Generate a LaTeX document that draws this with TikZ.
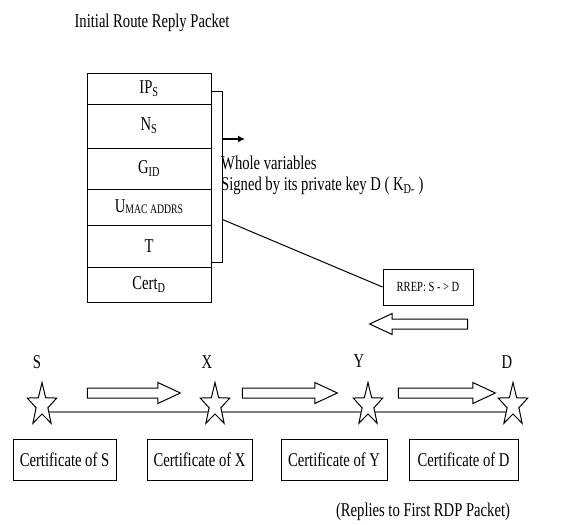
\documentclass[tikz,border=0pt]{standalone}
\usepackage{fontspec}
\setmainfont{Liberation Serif}[FakeStretch=0.75]
\usetikzlibrary{arrows.meta,calc,positioning,backgrounds,shapes.geometric,shapes.arrows}

\begin{document}
\begin{tikzpicture}[x=1pt,y=-1pt,>=Latex,
 every node/.style={font=\fontsize{19.5}{21}\selectfont},
 field/.style={draw,line width=1pt,minimum width=124pt,inner sep=0pt},
 certbox/.style={draw,line width=1pt,minimum height=41pt,inner sep=0pt},
 blockarrow/.style={single arrow,draw,fill=white,line width=1pt,inner xsep=0pt,inner ysep=4.5pt,
 single arrow head extend=5.5pt,single arrow tip angle=50},
 hopstar/.style={star,star points=5,star point ratio=2.5,draw,fill=white,line width=1pt,
 minimum size=31pt,inner sep=0pt,yscale=1.45,transform shape}]
 \useasboundingbox (0,0) rectangle (576,525);
 \node (title) at (152,23) {Initial Route Reply Packet};
 \node[field,minimum height=31pt] (ips) at (149,88.5) {IP\textsubscript{S}};
 \node[field,minimum height=44pt] (ns) at (149,126) {N\textsubscript{S}};
 \node[field,minimum height=41pt] (gid) at (149,168.5) {G\textsubscript{ID}};
 \node[field,minimum height=36pt] (umac) at (149,207) {U\raisebox{-1pt}{\fontsize{13}{14}\selectfont MAC ADDRS}};
 \node[field,minimum height=42pt] (tfield) at (149,246) {T};
 \node[field,minimum height=35pt] (cert) at (149,284.5) {Cert\textsubscript{D}};
 \node[draw,line width=1pt,minimum width=11pt,minimum height=171pt,inner sep=0pt] (sigbar) at (216.5,176.5) {};
 \coordinate (sigtip) at (245,139);
 \draw[-{Latex[length=7pt,width=7pt]},line width=1.5pt] (sigbar.east |- sigtip) -- (sigtip);
 \node[anchor=west,inner sep=0pt] (whole) at (221,163) {Whole variables};
 \node[anchor=west,inner sep=0pt] (signed) at (221,186) {Signed by its private key D ( K\textsubscript{D-} )};
 \node[draw,line width=1pt,minimum width=90pt,minimum height=36pt,font=\fontsize{14}{16}\selectfont] (rrep) at (428,287) {RREP: S - > D};
 \draw[line width=1pt] ($(sigbar.north east)!0.75!(sigbar.south east)$) -- (rrep.west);
 \node[blockarrow,minimum height=98pt,shape border rotate=180] (back) at (424,324) {};

 \node (lS) at (37,362) {S};
 \node (lX) at (207,362) {X};
 \node (lY) at (359,361) {Y};
 \node (lD) at (507,362) {D};
 \node[hopstar] (sS) at (42,405) {};
 \node[hopstar] (sX) at (215,405) {};
 \node[hopstar] (sY) at (368,405) {};
 \node[hopstar] (sD) at (513,405) {};
 \begin{scope}[on background layer]
 \draw[gray,line width=1.2pt] ([yshift=-7pt]sS.center) -- ([yshift=-7pt]sD.center);
 \end{scope}
 \node[blockarrow,minimum height=93pt] (hop1) at (128.5,393) {};
 \node[blockarrow,minimum height=95pt] (hop2) at (284.5,393) {};
 \node[blockarrow,minimum height=97pt] (hop3) at (441.5,393) {};

 \node[certbox,minimum width=103pt] (cS) at (64.5,460) {Certificate of S};
 \node[certbox,minimum width=105pt] (cX) at (199.5,460) {Certificate of X};
 \node[certbox,minimum width=106pt] (cY) at (334,460) {Certificate of Y};
 \node[certbox,minimum width=109pt] (cD) at (463.5,460) {Certificate of D};
 \node (replies) at (423,512) {(Replies to First RDP Packet)};
\end{tikzpicture}
\end{document}
